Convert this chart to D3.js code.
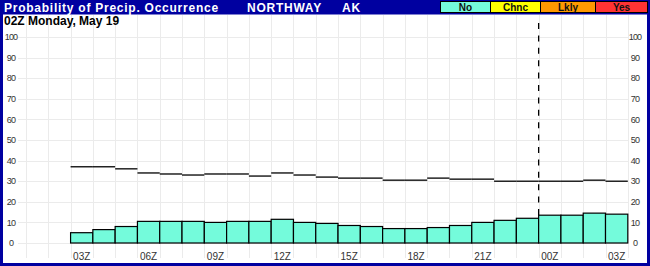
<!doctype html>
<html lang="en">
  <head>
    <meta charset="utf-8">
    <title>Probability of Precip. Occurrence - NORTHWAY AK</title>
    <style>
      body { margin: 0; background: #fff; }
      svg { display: block; font-family: Arial, "Liberation Sans", sans-serif; }
    </style>
  </head>
  <body>
    <div class="container"></div>

    <script src="https://d3js.org/d3.v7.min.js"></script>
    <script>
    // hourly slots across the chart (first two are empty)
    var slots = ["01Z","02Z","03Z","04Z","05Z","06Z","07Z","08Z","09Z","10Z","11Z","12Z","13Z","14Z",
                 "15Z","16Z","17Z","18Z","19Z","20Z","21Z","22Z","23Z","00Z","01Z","02Z","03Z"];
    // probability of precip (bars)
    var pop = [null, null, 5, 6.5, 8, 10.5, 10.5, 10.5, 10, 10.5, 10.5, 11.5, 10, 9.5, 8.5, 8,
               7, 7, 7.5, 8.5, 10, 11, 12, 13.5, 13.5, 14.5, 14];
    // black step line
    var refLine = [null, null, 37, 37, 36, 34, 33.5, 33, 33.5, 33.5, 32.5, 34, 33, 32, 31.5, 31.5,
                   30.5, 30.5, 31.5, 31, 31, 30, 30, 30, 30, 30.5, 30];
    var tickLabels = ["03Z","06Z","09Z","12Z","15Z","18Z","21Z","00Z","03Z"];
    var yTicks = [0, 10, 20, 30, 40, 50, 60, 70, 80, 90, 100];
    var legendCats = ["No", "Chnc", "Lkly", "Yes"];
    var legendColors = ["#74fbdb", "#ffff00", "#ff9900", "#ff3333"];
    var dayBreak = "00Z";

    var W = 650, H = 266;
    var svg = d3.select(".container")
        .append("svg")
        .attr("width", W)
        .attr("height", H);

    var x = d3.scaleLinear().domain([0, slots.length]).range([26, 627.8]);
    var y = d3.scaleLinear().domain([0, 100]).range([243, 37]);

    // frame
    svg.append("rect")
      .attr("x", 0).attr("y", 0).attr("width", W).attr("height", H)
      .attr("fill", "#0000a0");
    svg.append("rect")
      .attr("x", 3).attr("y", 14.5).attr("width", W - 6).attr("height", H - 14.5 - 3)
      .attr("fill", "#fff");

    // grid
    var grid = svg.append("g").attr("stroke", "#ebebeb").attr("stroke-width", 1);
    grid.selectAll("line.v")
      .data(d3.range(slots.length + 1))
      .join("line")
      .attr("class", "v")
      .attr("x1", d => Math.round(x(d)) + 0.5)
      .attr("x2", d => Math.round(x(d)) + 0.5)
      .attr("y1", 15)
      .attr("y2", 258);
    grid.selectAll("line.h")
      .data(yTicks)
      .join("line")
      .attr("class", "h")
      .attr("x1", 18)
      .attr("x2", 628)
      .attr("y1", d => Math.round(y(d)) + 0.5)
      .attr("y2", d => Math.round(y(d)) + 0.5);

    // y labels, both sides
    [11, 635].forEach(function(lx) {
      svg.append("g").selectAll("text")
        .data(yTicks)
        .join("text")
        .attr("x", lx)
        .attr("y", d => y(d))
        .attr("dy", "0.35em")
        .attr("text-anchor", "middle")
        .attr("font-size", "9px")
        .attr("letter-spacing", "-0.8px")
        .attr("fill", "#333")
        .text(d => d);
    });

    // day break dashed line
    var breakIdx = slots.indexOf(dayBreak);
    svg.append("line")
      .attr("x1", x(breakIdx)).attr("x2", x(breakIdx))
      .attr("y1", 23).attr("y2", y(0))
      .attr("stroke", "#000")
      .attr("stroke-width", 1.3)
      .attr("stroke-dasharray", "6,6.4");

    // bars
    var barData = pop.map((v, i) => ({i: i, v: v})).filter(d => d.v != null);
    svg.append("g").selectAll("rect")
      .data(barData)
      .join("rect")
      .attr("x", d => x(d.i))
      .attr("y", d => y(d.v))
      .attr("width", d => x(d.i + 1) - x(d.i))
      .attr("height", d => y(0) - y(d.v))
      .attr("fill", legendColors[0])
      .attr("stroke", "#000")
      .attr("stroke-width", 1.2);

    // step line segments
    var lineData = refLine.map((v, i) => ({i: i, v: v})).filter(d => d.v != null);
    svg.append("g").selectAll("line")
      .data(lineData)
      .join("line")
      .attr("x1", d => x(d.i))
      .attr("x2", d => x(d.i + 1))
      .attr("y1", d => y(d.v))
      .attr("y2", d => y(d.v))
      .attr("stroke", "#000")
      .attr("stroke-width", 1.3);

    // x labels
    var tickIdx = [];
    var t = 0;
    slots.forEach(function(s, i) {
      if (t < tickLabels.length && s === tickLabels[t] && pop[i] != null) { tickIdx.push(i); t++; }
    });
    svg.append("g").selectAll("text")
      .data(tickIdx)
      .join("text")
      .attr("x", d => (x(d) + x(d + 1)) / 2)
      .attr("y", 260)
      .attr("text-anchor", "middle")
      .attr("font-size", "10px")
      .attr("fill", "#333")
      .text(d => slots[d]);

    // header texts
    svg.append("text")
      .attr("x", 4).attr("y", 11.5)
      .attr("fill", "#fff")
      .attr("font-size", "12px")
      .attr("font-weight", "bold")
      .attr("letter-spacing", "0.75px")
      .text("Probability of Precip. Occurrence");
    svg.append("text")
      .attr("x", 247).attr("y", 11.5)
      .attr("fill", "#fff")
      .attr("font-size", "12px")
      .attr("font-weight", "bold")
      .attr("letter-spacing", "0.75px")
      .text("NORTHWAY");
    svg.append("text")
      .attr("x", 342).attr("y", 11.5)
      .attr("fill", "#fff")
      .attr("font-size", "12px")
      .attr("font-weight", "bold")
      .attr("letter-spacing", "0.75px")
      .text("AK");

    svg.append("text")
      .attr("x", 4).attr("y", 25)
      .attr("fill", "#000")
      .attr("font-size", "12px")
      .attr("font-weight", "bold")
      .text("02Z Monday, May 19");

    // legend
    var legendX = d3.scaleOrdinal().domain(legendCats).range([440.5, 490.5, 540.5, 595.5]);
    var legendW = d3.scaleOrdinal().domain(legendCats).range([50, 50, 55, 52]);
    var legend = svg.append("g");
    legend.selectAll("rect")
      .data(legendCats)
      .join("rect")
      .attr("x", d => legendX(d))
      .attr("y", 1.5)
      .attr("width", d => legendW(d))
      .attr("height", 11)
      .attr("fill", (d, i) => legendColors[i])
      .attr("stroke", "#000")
      .attr("stroke-width", 1);
    legend.selectAll("text")
      .data(legendCats)
      .join("text")
      .attr("x", d => legendX(d) + legendW(d) / 2)
      .attr("y", 11)
      .attr("text-anchor", "middle")
      .attr("font-size", "10px")
      .attr("font-weight", "bold")
      .attr("fill", "#111")
      .text(d => d);
    </script>
  </body>
</html>
